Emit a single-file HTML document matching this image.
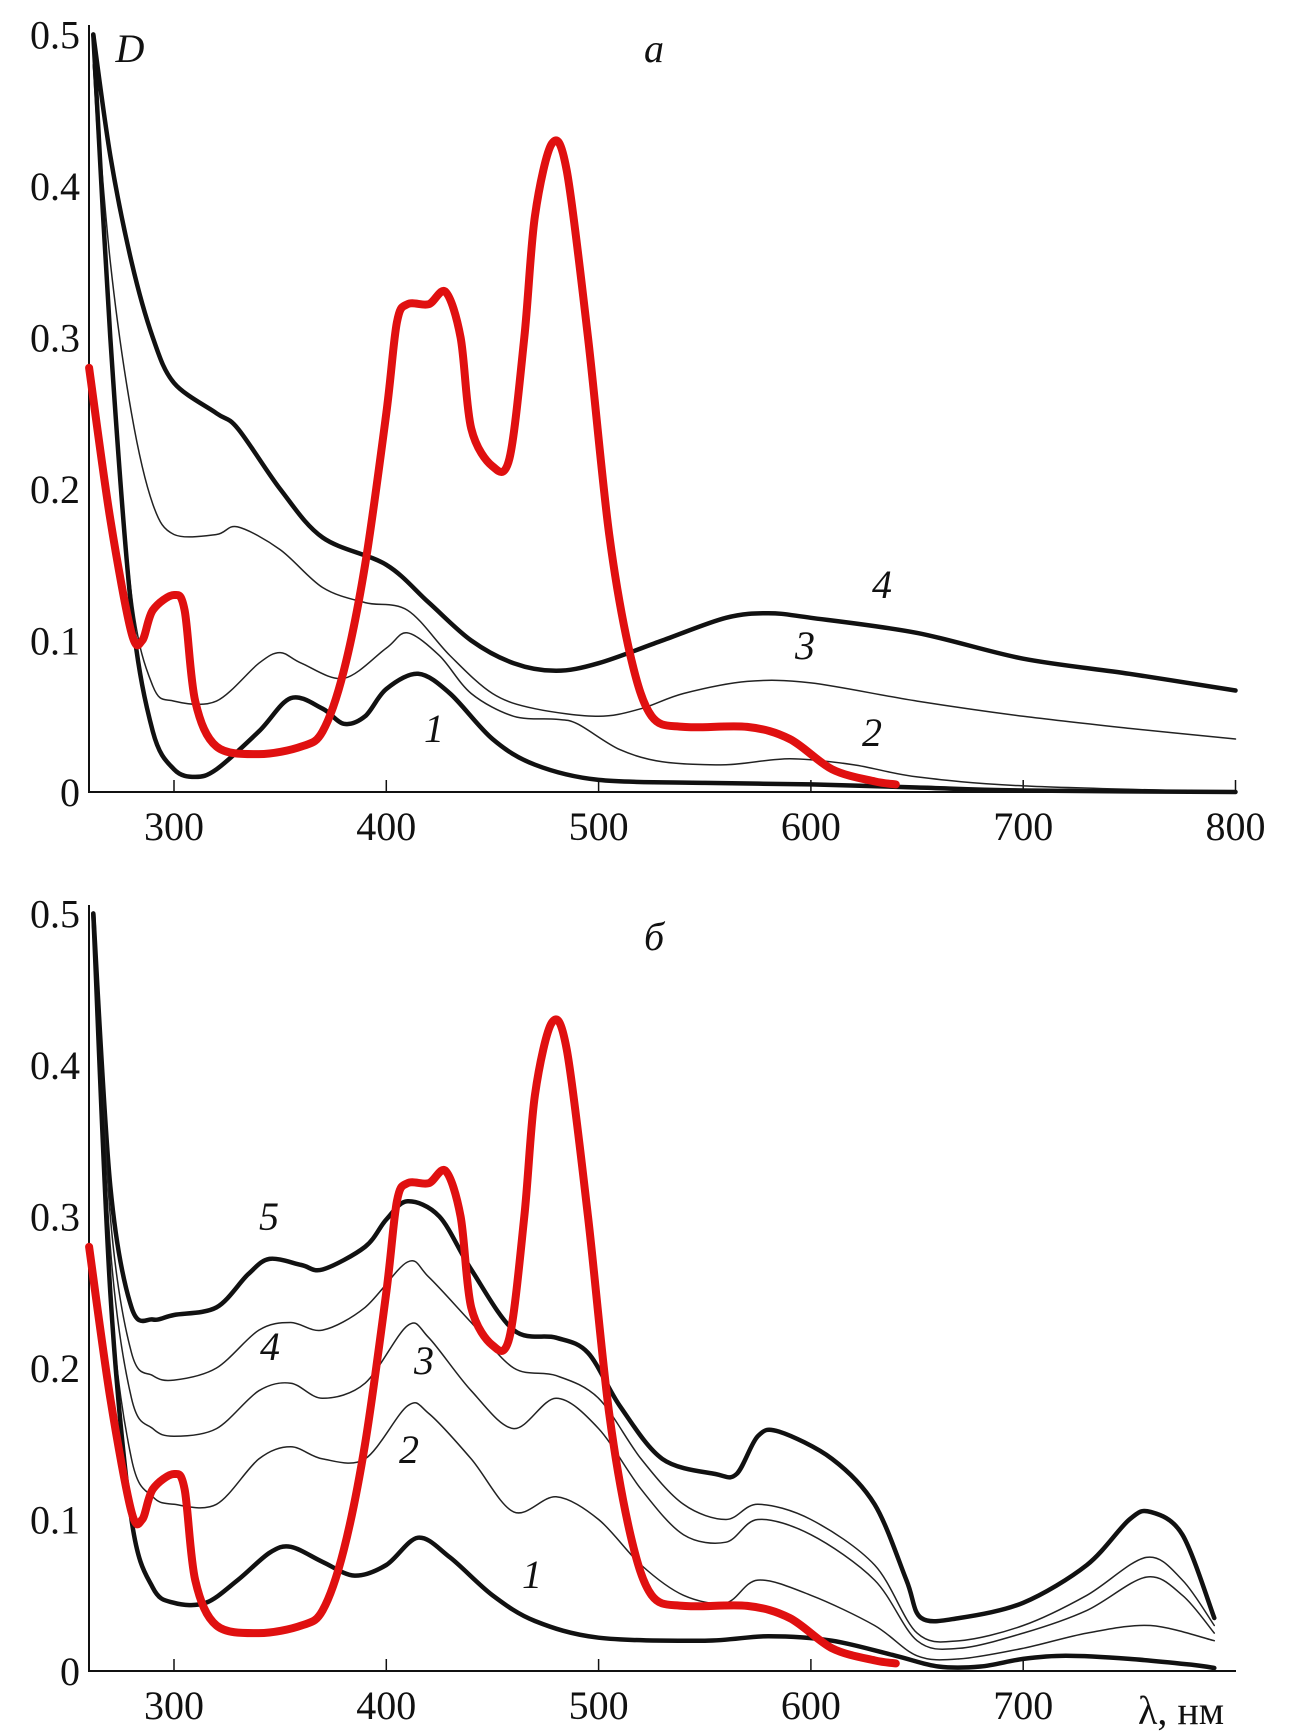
<!DOCTYPE html>
<html><head><meta charset="utf-8"><style>
body{margin:0;background:#fff}
svg text{font-family:"Liberation Serif",serif;fill:#111}
</style></head><body>
<svg id="chart" width="1290" height="1731" viewBox="0 0 1290 1731" xmlns="http://www.w3.org/2000/svg"></svg>
<script>
// shared axis data
const xTicks=[300,400,500,600,700,800];
const xTicksB=[300,400,500,600,700];
const yTicks=[0,0.1,0.2,0.3,0.4,0.5];
const yTickLabels=["0","0.1","0.2","0.3","0.4","0.5"];
// red reference curve (both panels)
const redL=[260,270,280,285,290,300,305,310,320,340,360,370,380,390,400,405,410,420,428,435,440,450,458,465,470,478,485,495,505,515,525,540,570,590,610,630,640];
const redD=[0.28,0.18,0.105,0.10,0.12,0.13,0.12,0.06,0.03,0.025,0.03,0.04,0.08,0.15,0.25,0.31,0.322,0.322,0.33,0.30,0.24,0.215,0.22,0.30,0.38,0.428,0.41,0.30,0.17,0.09,0.05,0.043,0.043,0.035,0.015,0.007,0.005];
// panel a
const a1L=[262,270,280,290,300,310,320,340,355,370,380,390,400,415,430,450,470,500,550,600,650,700,800];
const a1D=[0.5,0.3,0.12,0.04,0.015,0.01,0.015,0.04,0.062,0.055,0.045,0.05,0.068,0.078,0.065,0.035,0.018,0.008,0.006,0.005,0.003,0.001,0];
const a2L=[262,270,280,290,300,320,340,350,360,380,400,410,425,440,460,480,490,510,530,560,590,620,650,700,800];
const a2D=[0.48,0.3,0.13,0.07,0.06,0.06,0.085,0.092,0.085,0.075,0.095,0.105,0.09,0.065,0.05,0.048,0.045,0.028,0.02,0.018,0.022,0.018,0.01,0.004,0];
const a3L=[262,270,280,290,300,320,330,350,370,390,410,430,450,470,500,520,540,570,600,650,700,750,800];
const a3D=[0.48,0.35,0.25,0.19,0.17,0.17,0.175,0.16,0.135,0.125,0.12,0.09,0.065,0.055,0.05,0.055,0.065,0.073,0.072,0.06,0.05,0.042,0.035];
const a4L=[262,270,280,290,300,320,330,350,370,400,420,440,460,480,500,530,560,580,600,650,700,750,800];
const a4D=[0.5,0.42,0.35,0.3,0.27,0.25,0.24,0.2,0.168,0.15,0.125,0.1,0.085,0.08,0.085,0.1,0.115,0.118,0.115,0.105,0.088,0.078,0.067];
// panel b
const b1L=[262,270,280,290,300,315,330,345,355,370,385,400,415,430,450,470,500,550,580,610,640,660,680,700,720,750,780,790];
const b1D=[0.5,0.25,0.1,0.055,0.045,0.045,0.06,0.078,0.082,0.072,0.063,0.07,0.088,0.075,0.05,0.033,0.022,0.02,0.023,0.02,0.01,0.003,0.003,0.008,0.01,0.008,0.004,0.002];
const b2L=[262,270,280,290,300,320,340,355,370,390,410,420,440,460,480,500,520,540,560,575,600,630,650,670,700,730,760,790];
const b2D=[0.5,0.25,0.14,0.115,0.11,0.11,0.14,0.148,0.14,0.14,0.175,0.17,0.14,0.105,0.115,0.1,0.07,0.05,0.045,0.06,0.05,0.03,0.01,0.008,0.015,0.025,0.03,0.02];
const b3L=[262,270,280,290,300,320,340,355,370,390,410,420,440,460,480,500,520,540,560,575,600,630,650,670,700,730,758,775,790];
const b3D=[0.5,0.28,0.18,0.16,0.155,0.16,0.185,0.19,0.18,0.19,0.228,0.22,0.185,0.16,0.18,0.16,0.12,0.09,0.085,0.1,0.09,0.06,0.02,0.015,0.025,0.04,0.062,0.05,0.025];
const b4L=[262,270,280,290,300,320,340,355,370,390,410,420,440,460,480,500,520,540,560,575,600,630,650,670,700,730,758,775,790];
const b4D=[0.5,0.3,0.21,0.195,0.192,0.2,0.225,0.23,0.225,0.24,0.27,0.26,0.23,0.2,0.195,0.18,0.14,0.11,0.1,0.11,0.1,0.07,0.025,0.02,0.03,0.05,0.075,0.06,0.03];
const b5L=[262,270,280,290,300,320,335,345,360,370,390,400,410,425,440,460,480,495,510,530,555,565,575,585,610,630,645,652,670,700,730,750,760,775,790];
const b5D=[0.5,0.32,0.24,0.232,0.235,0.24,0.262,0.272,0.268,0.265,0.28,0.298,0.31,0.3,0.265,0.225,0.22,0.21,0.175,0.14,0.13,0.13,0.155,0.158,0.14,0.11,0.06,0.035,0.035,0.045,0.07,0.1,0.105,0.09,0.035];

const svg=document.getElementById('chart');
const NS='http://www.w3.org/2000/svg';
function xs(l){return 174+(l-300)*2.123;}
function mk(tag,attrs){const e=document.createElementNS(NS,tag);for(const k in attrs)e.setAttribute(k,attrs[k]);svg.appendChild(e);return e;}
function txt(s,x,y,size,anchor,italic){const t=mk('text',{x:x,y:y,'font-size':size,'text-anchor':anchor,'textLength':'','lengthAdjust':'spacingAndGlyphs'});t.removeAttribute('textLength');if(italic)t.setAttribute('font-style','italic');t.textContent=s;return t;}

function panel(p,y0,yTop,xRight,ticks,id){
  const ys=d=>y0-d*1515;
  const ax=mk('path',{d:`M89 ${yTop} V${y0} H${xRight}`,fill:'none',stroke:'#111','stroke-width':2});
  
  
  ticks.forEach(l=>{
    const tk=mk('line',{x1:xs(l),x2:xs(l),y1:y0,y2:y0-12,stroke:'#111','stroke-width':1.5});
    
    
    const t=txt(String(l),xs(l),y0+48,40,'middle');
    
    
  });
  yTicks.forEach((d,i)=>{
    const t=txt(yTickLabels[i],80,ys(d)+14,40,'end');
    
    
  });
  return ys;
}
function curve(L,D,ys,color,w,name){
  const P=L.map((l,i)=>[xs(l),ys(D[i])]);
  let d='M'+P[0][0].toFixed(1)+' '+P[0][1].toFixed(1);
  const k=0.16;
  for(let i=0;i<P.length-1;i++){
    const p0=P[Math.max(0,i-1)],p1=P[i],p2=P[i+1],p3=P[Math.min(P.length-1,i+2)];
    const c1=[p1[0]+(p2[0]-p0[0])*k,p1[1]+(p2[1]-p0[1])*k];
    const c2=[p2[0]-(p3[0]-p1[0])*k,p2[1]-(p3[1]-p1[1])*k];
    d+=` C${c1[0].toFixed(1)} ${c1[1].toFixed(1)} ${c2[0].toFixed(1)} ${c2[1].toFixed(1)} ${p2[0].toFixed(1)} ${p2[1].toFixed(1)}`;
  }
  const p=mk('path',{d:d,fill:'none',stroke:color,'stroke-width':w,'stroke-linejoin':'round','stroke-linecap':'round'});
  
  
}
const ysA=panel('a',792,25,1237,xTicks,'panel-a');
curve(a4L,a4D,ysA,'#111',4.5,'panel-a-curve-4');
curve(a3L,a3D,ysA,'#222',1.5,'panel-a-curve-3');
curve(a2L,a2D,ysA,'#222',1.5,'panel-a-curve-2');
curve(a1L,a1D,ysA,'#111',4.5,'panel-a-curve-1');
curve(redL,redD,ysA,'#e01010',8,'panel-a-red-curve');
const ysB=panel('b',1671,905,1236,xTicksB,'panel-b');
curve(b5L,b5D,ysB,'#111',4.5,'panel-b-curve-5');
curve(b4L,b4D,ysB,'#222',1.5,'panel-b-curve-4');
curve(b3L,b3D,ysB,'#222',1.5,'panel-b-curve-3');
curve(b2L,b2D,ysB,'#222',1.5,'panel-b-curve-2');
curve(b1L,b1D,ysB,'#111',4.5,'panel-b-curve-1');
curve(redL,redD,ysB,'#e01010',8,'panel-b-red-curve');

const labels=[["D",130,62,'y-axis-title'],["a",654,62,'panel-a-title'],["4",882,598,'label-a-4'],["3",805,659,'label-a-3'],["2",872,746,'label-a-2'],["1",434,742,'label-a-1'],
["б",654,950,'panel-b-title'],["5",269,1230,'label-b-5'],["4",270,1360,'label-b-4'],["3",424,1374,'label-b-3'],["2",409,1463,'label-b-2'],["1",532,1588,'label-b-1']];
labels.forEach(a=>{const t=txt(a[0],a[1],a[2],40,'middle',true);
  
  });
const xl=txt("λ, нм",1181,1724,40,'middle');


</script>
</body></html>
